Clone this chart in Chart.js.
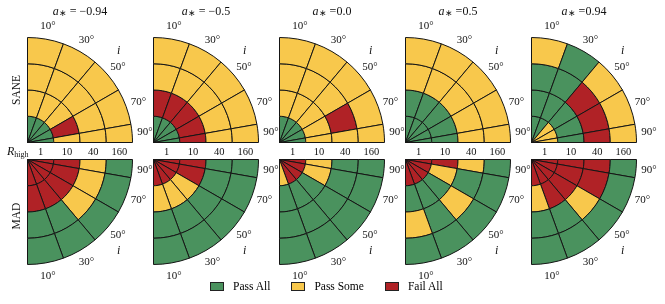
<!DOCTYPE html>
<html><head><meta charset="utf-8">
<script src="https://cdn.jsdelivr.net/npm/chart.js@4.4.1/dist/chart.umd.min.js"></script>
<style>
html,body{margin:0;padding:0;background:#fff;width:665px;height:304px;overflow:hidden;font-family:'Liberation Serif','Times New Roman',serif;}
#wrap{position:absolute;left:0;top:0;width:665px;height:304px;}
canvas{position:absolute;}
#legend{position:absolute;left:210px;top:279px;display:flex;align-items:center;font-size:11.5px;color:#000;white-space:nowrap;line-height:14px;}
.item{display:flex;align-items:center;margin-right:21px;}
.box{width:12px;height:7px;border:1px solid #222;margin-right:9px;}
</style></head><body><div id="wrap"></div><div id="legend"></div>
<script>
// ---- data ----
const spinValues = ['\u22120.94', '\u22120.5', '0.0', '0.5', '0.94'];
const titleEq = [' = ', ' = ', ' =', ' =', ' ='];
const methods = ['SANE', 'MAD'];
const incLabels = ['10\u00b0', '30\u00b0', '50\u00b0', '70\u00b0', '90\u00b0'];
const incEdges = [0, 20, 40, 60, 80, 90];          // inclination bin edges (deg)
const rHighLabels = ['1', '10', '40', '160'];       // R_high rings, inner -> outer
const categories = ['Pass All', 'Pass Some', 'Fail All'];
const catColors = ['#4a925e', '#f8c84c', '#b02226'];

// status: 0 = Pass All, 1 = Pass Some, 2 = Fail All
// rows: R_high rings (1, 10, 40, 160); columns: inclination bins (10..90)
const saneM094 = [[0,0,0,0,0],[1,1,1,2,1],[1,1,1,1,1],[1,1,1,1,1]];
const saneM05  = [[0,0,0,0,0],[2,2,2,2,2],[1,1,1,1,1],[1,1,1,1,1]];
const sane00   = [[0,0,0,0,0],[1,1,1,1,1],[1,1,1,2,1],[1,1,1,1,1]];
const sane05   = [[0,0,0,0,0],[0,0,0,0,0],[1,1,1,1,1],[1,1,1,1,1]];
const sane094  = [[0,0,1,1,1],[0,0,0,0,0],[0,0,2,2,2],[1,0,1,1,1]];
const madM094  = [[2,2,2,2,2],[2,2,2,2,2],[0,0,1,1,1],[0,0,0,0,0]];
const madM05   = [[2,2,2,2,2],[1,1,1,2,2],[0,0,0,0,0],[0,0,0,0,0]];
const mad00    = [[1,2,2,2,2],[0,0,0,1,1],[0,0,0,0,0],[0,0,0,0,0]];
const mad05    = [[2,2,2,2,2],[0,0,0,1,2],[1,0,1,0,1],[0,0,0,0,0]];
const mad094   = [[2,2,2,2,2],[1,2,2,2,2],[0,0,1,2,2],[0,0,0,0,0]];
const panels = [[saneM094, saneM05, sane00, sane05, sane094], [madM094, madM05, mad00, mad05, mad094]];

// ---- derived ----
const incWidths = incEdges.slice(1).map((e, i) => e - incEdges[i]);
const incCenters = incEdges.slice(1).map((e, i) => (e + incEdges[i]) / 2);
const FONT = '"Liberation Serif","Times New Roman",serif';
const FS = 11;

function drawRich(ctx, parts, x, y, align) {
  let w = 0;
  parts.forEach(p => { ctx.font = p.font; w += ctx.measureText(p.t).width; });
  let cx = align === 'center' ? x - w / 2 : (align === 'right' ? x - w : x);
  ctx.textAlign = 'left';
  parts.forEach(p => { ctx.font = p.font; ctx.fillText(p.t, cx, y + (p.dy || 0)); cx += ctx.measureText(p.t).width; });
}

const labelPlugin = {
  id: 'panelLabels',
  afterDraw(chart, args, o) {
    const ctx = chart.ctx;
    const arc = chart.getDatasetMeta(0).data[0];
    const ox = arc.x, oy = arc.y, R = arc.outerRadius;
    const dir = o.row === 0 ? -1 : 1;
    ctx.save();
    ctx.fillStyle = '#111';
    ctx.textBaseline = 'middle';
    ctx.textAlign = 'center';
    ctx.font = FS + 'px ' + FONT;
    incCenters.forEach((c, i) => {
      const t = c * Math.PI / 180, r = R + 13;
      ctx.fillText(incLabels[i], ox + r * Math.sin(t), oy + dir * r * Math.cos(t));
    });
    ctx.font = 'italic ' + (FS + 1) + 'px ' + FONT;
    const ti = Math.PI / 4, ri = R + 24;
    ctx.fillText('i', ox + ri * Math.sin(ti), oy + dir * ri * Math.cos(ti));
    if (o.row === 0) {
      ctx.font = (FS - 0.5) + 'px ' + FONT;
      rHighLabels.forEach((lab, j) => ctx.fillText(lab, ox + (j + 0.5) * R / 4, oy + 9.5));
      drawRich(ctx, [
        { t: 'a', font: 'italic ' + (FS + 1) + 'px ' + FONT },
        { t: '\u2217', font: (FS - 2) + 'px ' + FONT, dy: 2 },
        { t: titleEq[o.col] + spinValues[o.col], font: (FS + 1) + 'px ' + FONT }
      ], ox + R / 2, 12, 'center');
      if (o.col === 0) {
        drawRich(ctx, [
          { t: 'R', font: 'italic ' + (FS + 1) + 'px ' + FONT },
          { t: 'high', font: (FS - 3) + 'px ' + FONT, dy: 3 }
        ], ox + 1, oy + 9, 'right');
      }
    }
    if (o.col === 0) {
      ctx.save();
      ctx.translate(ox - 10.5, oy + dir * R / 2 + (o.row === 0 ? 0 : 4));
      ctx.rotate(-Math.PI / 2);
      ctx.font = (FS + 0.5) + 'px ' + FONT;
      ctx.textAlign = 'center';
      ctx.fillText(methods[o.row], 0, 0);
      ctx.restore();
    }
    ctx.restore();
  }
};

const wrap = document.getElementById('wrap');
const S = 106;
for (let row = 0; row < 2; row++) {
  for (let col = 0; col < 5; col++) {
    const cv = document.createElement('canvas');
    const W = 175, H = row === 0 ? 160 : 140;
    cv.width = W; cv.height = H;
    cv.style.width = W + 'px'; cv.style.height = H + 'px';
    cv.style.left = (126 * col - 3) + 'px';
    cv.style.top = (row === 0 ? 0 : 152) + 'px';
    wrap.appendChild(cv);
    const padTop = row === 0 ? 37 : 7;
    const grid = panels[row][col];
    // top row: start at vertical (i=0) sweeping to horizontal; bottom row: start at horizontal (i=90) sweeping down
    const order = row === 0 ? [0,1,2,3,4] : [4,3,2,1,0];
    const datasets = [3, 2, 1, 0].map(ring => ({
      label: 'R_high ' + rHighLabels[ring],
      data: order.map(b => incWidths[b]),
      backgroundColor: order.map(b => catColors[grid[ring][b]]),
      borderColor: '#151515',
      borderWidth: 1,
      hoverBorderWidth: 1,
      hoverOffset: 0,
      borderAlign: 'center'
    }));
    new Chart(cv, {
      type: 'doughnut',
      data: { labels: order.map(b => incLabels[b]), datasets },
      options: {
        responsive: false, animation: false, events: [],
        rotation: row === 0 ? 0 : 90, circumference: 90, cutout: 0,
        layout: { padding: { left: 30, right: W - 30 - S, top: padTop, bottom: H - padTop - S } },
        plugins: { legend: { display: false }, tooltip: { enabled: false }, panelLabels: { row, col } }
      },
      plugins: [labelPlugin]
    });
  }
}

const lg = document.getElementById('legend');
categories.forEach((c, i) => {
  const it = document.createElement('div'); it.className = 'item';
  const b = document.createElement('div'); b.className = 'box'; b.style.background = catColors[i];
  const t = document.createElement('span'); t.textContent = c;
  it.appendChild(b); it.appendChild(t); lg.appendChild(it);
});
</script></body></html>
